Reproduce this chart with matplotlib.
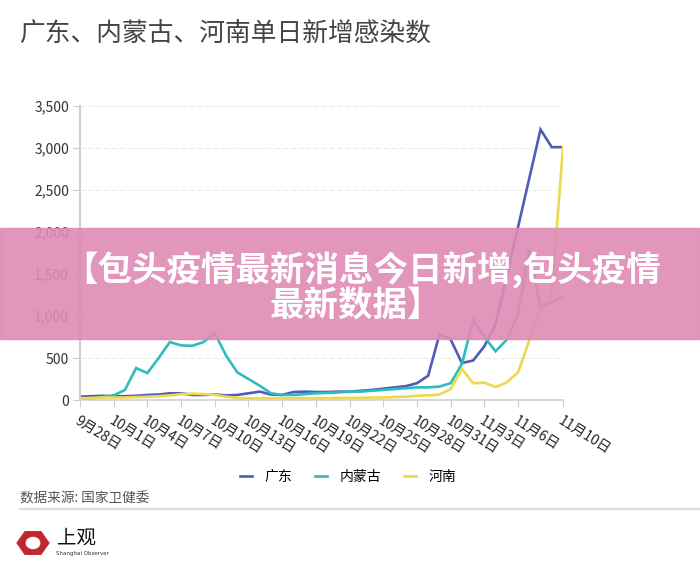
# -*- coding: utf-8 -*-
import numpy as np
import pandas as pd
import matplotlib
matplotlib.use('Agg')
import matplotlib.pyplot as plt
from matplotlib.patches import Rectangle, RegularPolygon, Circle

plt.rcParams['font.family'] = ['Noto Sans CJK SC', 'DejaVu Sans']

# Daily new infections, 9/28 - 11/10.
dates = pd.date_range('2021-09-28', '2021-11-10', freq='D')
guangdong = [40, 45, 50, 45, 45, 50, 60, 65, 80, 80,
             60, 60, 65, 55, 60, 80, 100, 65, 60, 95,
             100, 95, 95, 100, 100, 110, 120, 135, 150, 165,
             200, 290, 780, 720, 440, 470, 640, 900, 1480, 2060,
             2640, 3220, 3010, 3010]
neimenggu = [5, 15, 35, 55, 120, 380, 320, 500, 690, 650,
             645, 690, 795, 530, 330, 250, 170, 80, 60, 60,
             70, 80, 85, 90, 100, 100, 110, 120, 130, 140,
             150, 150, 160, 200, 430, 950, 750, 580, 720, 1030,
             1790, 1095, 1165, 1235]
henan = [20, 25, 30, 30, 30, 35, 40, 45, 55, 70,
         75, 70, 60, 40, 25, 20, 20, 20, 20, 20,
         20, 20, 20, 25, 25, 25, 30, 30, 35, 40,
         50, 55, 65, 130, 370, 200, 205, 155, 210, 330,
         710, 1080, 1270, 3010]
series_names = ['广东', '内蒙古', '河南']
colors = ['#4f5cb8', '#2fbcbc', '#ecd94e']

tick_dates = list(pd.date_range('2021-09-28', '2021-11-06', freq='3D')) + [pd.Timestamp('2021-11-10')]
tick_labels = [f'{d.month}月{d.day}日' for d in tick_dates]
y_ticks = [0, 500, 1000, 1500, 2000, 2500, 3000, 3500]

fig = plt.figure(figsize=(7, 5.74), dpi=100)
ax = fig.add_axes([80 / 700, 1 - 400 / 574, 483 / 700, 294 / 574])

for vals, name, c in zip([guangdong, neimenggu, henan], series_names, colors):
    ax.plot(dates, vals, color=c, lw=1.9, label=name, solid_joinstyle='miter')

ax.set_xlim(dates[0], dates[-1])
ax.set_ylim(0, 3500)
ax.set_yticks(y_ticks)
ax.set_yticklabels([f'{v:,}' for v in y_ticks], fontsize=10, color='#333333')
ax.set_xticks(tick_dates)
ax.set_xticklabels(tick_labels, fontsize=10, color='#222222', rotation=-32,
                   ha='left', va='top', rotation_mode='anchor')
ax.tick_params(axis='x', length=5, color='#cccccc', pad=5)
ax.tick_params(axis='y', length=5, color='#cccccc', pad=3)
ax.grid(axis='y', color='#ececec', lw=0.8, ls=(0, (5, 2)))
ax.set_axisbelow(True)
for s in ['top', 'right']:
    ax.spines[s].set_visible(False)
ax.spines['left'].set_color('#d0d0d0')
ax.spines['left'].set_linewidth(1.5)
ax.spines['bottom'].set_color('#d0d0d0')
ax.spines['bottom'].set_linewidth(1.2)

# Legend under the axis.
ax.legend(loc='center', bbox_to_anchor=(348 / 700, 1 - 477 / 574),
          bbox_transform=fig.transFigure, ncol=3, frameon=False, fontsize=10,
          handlelength=0.9, handletextpad=0.9, columnspacing=1.6)

# Title and source.
fig.text(20 / 700, 1 - 35 / 574, '广东、内蒙古、河南单日新增感染数', fontsize=18.5,
         color='#444444', va='center')
fig.text(20 / 700, 1 - 498 / 574, '数据来源: 国家卫健委', fontsize=9.8,
         color='#555555', va='center')
fig.add_artist(plt.Line2D([20 / 700, 1], [1 - 509 / 574, 1 - 509 / 574],
                          color='#dddddd', lw=1.5, transform=fig.transFigure))

# Logo.
fig.patches.append(RegularPolygon((33 / 700, 1 - 543 / 574), 6, radius=13 / 574,
                                  color='#c0282e', transform=fig.transFigure,
                                  orientation=np.pi / 6))
fig.patches.append(Circle((33 / 700, 1 - 543 / 574), 5.5 / 574, color='white',
                          transform=fig.transFigure))
fig.text(57 / 700, 1 - 538 / 574, '上观', fontsize=14, color='#111111', va='center')
fig.text(56 / 700, 1 - 553 / 574, 'Shanghai Observer', fontsize=4, color='#333333',
         va='center', family='DejaVu Sans')

# Pink banner over the chart.
fig.patches.append(Rectangle((0, 1 - 339 / 574), 1, 111 / 574, color='#df8bb5',
                             alpha=0.9, transform=fig.transFigure, zorder=10))
fig.text(362 / 700, 1 - 270 / 574, '【包头疫情最新消息今日新增,包头疫情', fontsize=24.8,
         color='white', fontweight='bold', ha='center', va='center', zorder=11)
fig.text(356 / 700, 1 - 306 / 574, '最新数据】', fontsize=24.8,
         color='white', fontweight='bold', ha='center', va='center', zorder=11)

plt.savefig('out.png', dpi=100)
